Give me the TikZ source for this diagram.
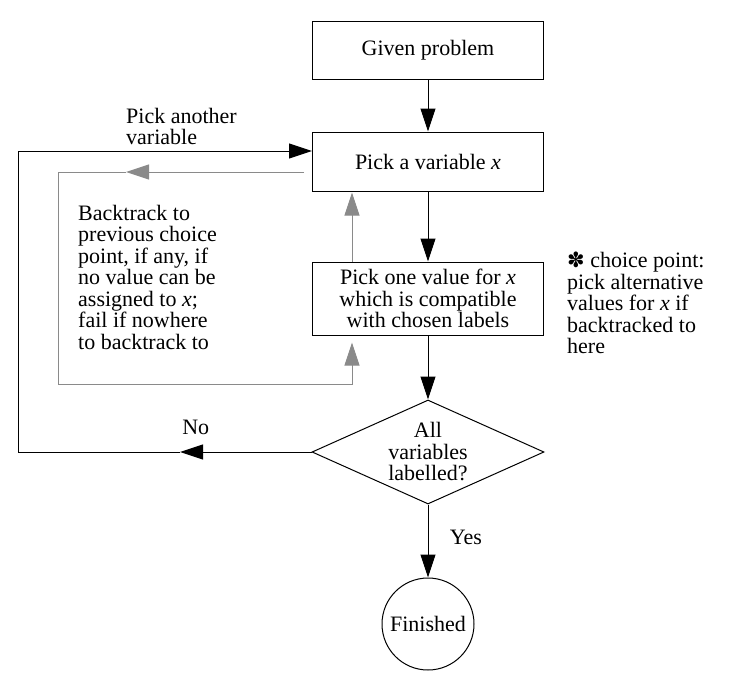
\documentclass[tikz,border=0pt]{standalone}
\usepackage{fontspec}
\setmainfont{Liberation Serif}
\newfontfamily\symfont{DejaVu Sans}
\usetikzlibrary{
    positioning,
    arrows.meta,
    shapes.geometric
    }
\definecolor{backgray}{RGB}{138,138,138}

\begin{document}
\begin{tikzpicture}[x=1pt, y=-1pt, font=\fontsize{22}{21.5}\selectfont]
\tikzset{stepbox/.style =
        {
            draw,
            line width=1pt,
            minimum width=231pt,
            align=center,
            inner sep=0pt
        }
}

\tikzset{testbox/.style =
        {
            shape=diamond,
            draw,
            line width=1pt,
            aspect=2.23,
            minimum width=232pt,
            minimum height=104pt,
            align=center,
            inner sep=1pt
        }
}

\tikzset{endbox/.style =
        {
            shape=circle,
            draw,
            line width=1pt,
            minimum size=92pt,
            inner sep=0pt
        }
}

\tikzset{plain/.style = { line width=1pt } }

\tikzset{flow/.style = {
            plain,
            -{Triangle[length=23pt, width=15pt]}
        }
}

\tikzset{backline/.style = { plain, backgray } }

\tikzset{backflow/.style = {
            backline,
            -{Triangle[length=23pt, width=15pt]}
        }
}

\tikzset{note/.style = { align=left, inner sep=0pt, anchor=north west } }

		\useasboundingbox (0,0) rectangle (730,685);

		\node[stepbox, minimum height=57pt] (given) at (428,50.5) {Given problem};
		\node[stepbox, minimum height=59pt] (pickvar) at (428,161.5) {Pick a variable \textit{x}};
		\node[stepbox, minimum height=73pt] (pickval) at (428,298.5) {Pick one value for \textit{x}\\which is compatible\\with chosen labels};
		\node[testbox] (labelled) at (428,452) {All\\variables\\labelled?};
		\node[endbox] (finished) at (428,624) {Finished};

		\draw[flow] (given) -- (pickvar);
		\draw[flow] (pickvar) -- (pickval);
		\draw[flow] (pickval) -- (labelled);
		\draw[flow] (labelled) -- (finished) node[pos=0.5, right=18pt, yshift=4pt] {Yes};

		% no: round to pick another variable
		\coordinate (no tip) at (180,452);
		\coordinate (no bl) at (18,452);
		\coordinate (no up) at (18,288);
		\coordinate (no tl) at (18,151);
		\draw[flow] (labelled.west) -- (no tip) node[pos=0.88, above=13pt] {No};
		\draw[plain] (no tip) -- (no bl) -- (no up);
		\draw[flow] (no up) -- (no tl) -- ([yshift=10.5pt]pickvar.west);

		% backtrack
		\coordinate (bt start) at ([xshift=-8pt, yshift=-10.5pt]pickvar.west);
		\coordinate (bt left) at (126,172);
		\coordinate (bt tl) at (58,172);
		\coordinate (bt down) at (58,340);
		\coordinate (bt bl) at (58,384);
		\coordinate (bt br) at (352,384);
		\draw[backflow] (bt start) -- (bt left);
		\draw[backline] (bt left) -- (bt tl) -- (bt down);
		\draw[backflow] (bt down) -- (bt bl) -- (bt br) -- ([xshift=-76pt, yshift=-7pt]pickval.south);
		\draw[backflow] ([xshift=-76pt]pickval.north) -- ([xshift=-76pt, yshift=-1pt]pickvar.south);

		\node[note] (another) at (126,108) {Pick another\\variable};
		\node[note] (backtrack) at (78,205) {Backtrack to\\previous choice\\point, if any, if\\no value can be\\assigned to \textit{x};\\fail if nowhere\\to backtrack to};
		\node[note] (choice) at (567,252) {{\symfont\fontsize{21}{21}\selectfont ✽} choice point:\\pick alternative\\values for \textit{x} if\\backtracked to\\here};

	\end{tikzpicture}
\end{document}
